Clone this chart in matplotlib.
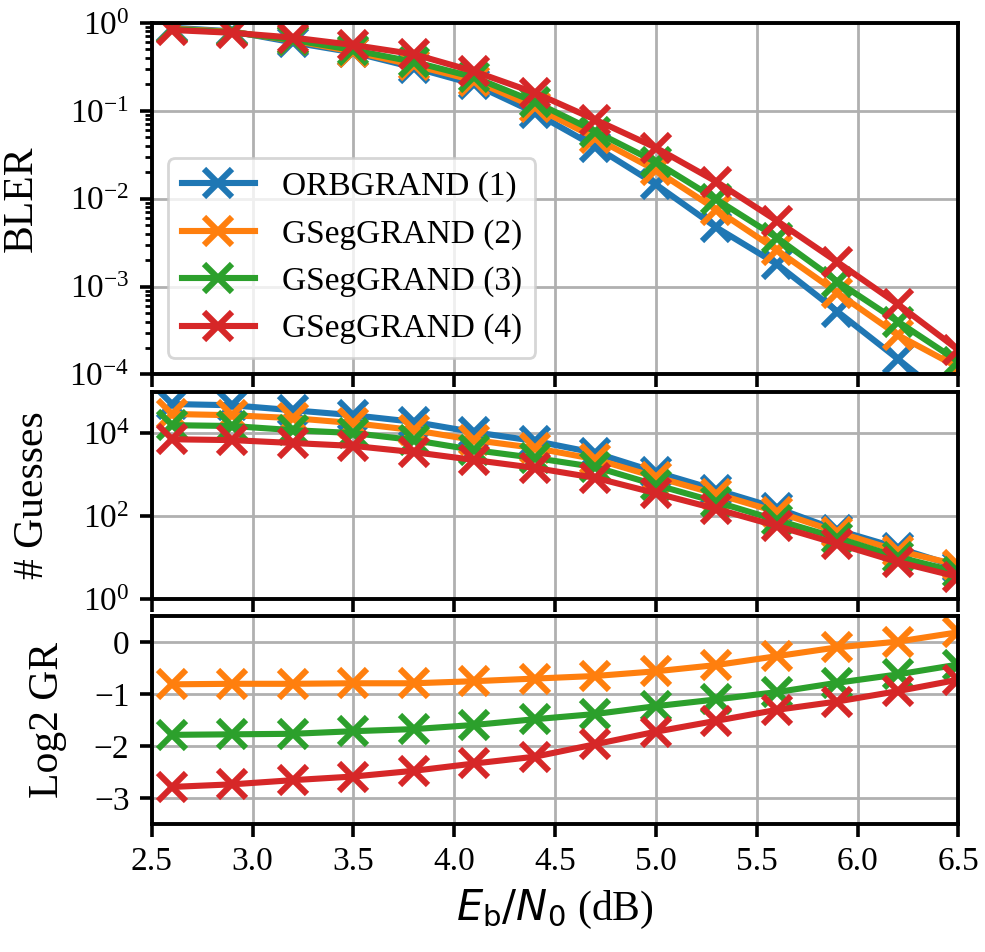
import numpy as np
import matplotlib
matplotlib.use("Agg")
import matplotlib.pyplot as plt

plt.rcParams['font.family'] = 'serif'
plt.rcParams['font.serif'] = ['Liberation Serif', 'DejaVu Serif']
plt.rcParams['mathtext.fontset'] = 'dejavusans'

snr = [2.6, 2.9, 3.2, 3.5, 3.8, 4.1, 4.4, 4.7, 5.0, 5.3, 5.6, 5.9, 6.2, 6.5]
labels = ['ORBGRAND (1)', 'GSegGRAND (2)', 'GSegGRAND (3)', 'GSegGRAND (4)']

# block error rate
bler_1 = [0.88, 0.80, 0.60, 0.46, 0.31, 0.20, 0.095, 0.039, 0.0145, 0.0047, 0.0018, 5.2e-4, 1.5e-4, 4.2e-5]
bler_2 = [0.86, 0.79, 0.63, 0.47, 0.33, 0.22, 0.11, 0.049, 0.021, 0.0075, 0.0026, 8.5e-4, 2.8e-4, 1.2e-4]
bler_3 = [0.85, 0.78, 0.64, 0.49, 0.36, 0.24, 0.126, 0.058, 0.026, 0.0098, 0.0036, 0.00114, 4.0e-4, 1.4e-4]
bler_4 = [0.83, 0.77, 0.68, 0.56, 0.44, 0.28, 0.16, 0.079, 0.038, 0.0156, 0.0056, 0.0019, 6.3e-4, 1.9e-4]

# average number of guesses (log10)
lg_guess_1 = [4.70, 4.67, 4.55, 4.43, 4.27, 4.02, 3.81, 3.52, 3.06, 2.63, 2.19, 1.66, 1.23, 0.77]
lg_guess_2 = [4.46, 4.43, 4.36, 4.24, 4.07, 3.83, 3.64, 3.37, 2.94, 2.53, 2.10, 1.61, 1.16, 0.82]
lg_guess_3 = [4.19, 4.17, 4.07, 4.00, 3.83, 3.59, 3.40, 3.18, 2.75, 2.34, 1.90, 1.47, 1.01, 0.65]
lg_guess_4 = [3.85, 3.83, 3.76, 3.69, 3.54, 3.35, 3.16, 2.92, 2.55, 2.17, 1.76, 1.33, 0.89, 0.53]

# log2 guess ratio vs ORBGRAND
gr_2 = [-0.81, -0.80, -0.80, -0.79, -0.79, -0.75, -0.70, -0.65, -0.56, -0.44, -0.27, -0.10, 0.01, 0.19]
gr_3 = [-1.78, -1.77, -1.76, -1.71, -1.67, -1.59, -1.48, -1.38, -1.23, -1.10, -0.96, -0.78, -0.62, -0.43]
gr_4 = [-2.78, -2.73, -2.65, -2.58, -2.47, -2.33, -2.20, -1.96, -1.72, -1.51, -1.30, -1.14, -0.94, -0.72]

colors = ['tab:blue', 'tab:orange', 'tab:green', 'tab:red']
sty = dict(marker='x', lw=2.2, ms=10, mew=2.2)

fig = plt.figure(figsize=(4.925, 4.76), dpi=200)
gs = fig.add_gridspec(3, 1, height_ratios=[351, 207, 208], hspace=0.067,
                      left=0.154, right=0.973, top=0.976, bottom=0.134)
ax1 = fig.add_subplot(gs[0])
ax2 = fig.add_subplot(gs[1], sharex=ax1)
ax3 = fig.add_subplot(gs[2], sharex=ax1)

for b, lab, c in zip([bler_1, bler_2, bler_3, bler_4], labels, colors):
    ax1.semilogy(snr, b, color=c, label=lab, **sty)
for g, c in zip([lg_guess_1, lg_guess_2, lg_guess_3, lg_guess_4], colors):
    ax2.semilogy(snr, 10 ** np.array(g), color=c, **sty)
for r, c in zip([gr_2, gr_3, gr_4], colors[1:]):
    ax3.plot(snr, r, color=c, **sty)

ax1.set_ylim(1e-4, 1)
ax1.set_ylabel('BLER', fontsize=15, va='center')
ax1.yaxis.set_label_coords(-0.162, 0.5)
ax1.legend(loc='lower left', fontsize=12, handlelength=2.2)

ax2.set_ylim(1, 1e5)
ax2.set_yticks([1, 1e2, 1e4])
ax2.yaxis.set_minor_locator(matplotlib.ticker.NullLocator())
ax2.set_ylabel('# Guesses', fontsize=15, va='center')
ax2.yaxis.set_label_coords(-0.147, 0.5)

ax3.set_ylim(-3.5, 0.5)
ax3.set_yticks([-3, -2, -1, 0])
ax3.set_ylabel('Log2 GR', fontsize=15, va='center')
ax3.yaxis.set_label_coords(-0.129, 0.5)
ax3.set_xlim(2.5, 6.5)
ax3.set_xticks(np.arange(2.5, 6.51, 0.5))
ax3.set_xlabel(r'$E_\mathrm{b}/N_0$ (dB)', fontsize=15)

for ax in [ax1, ax2, ax3]:
    ax.grid(True, which='major', color='#b0b0b0', lw=1.0)
    ax.tick_params(which='major', length=4.5, width=1.3, labelsize=12)
    ax.tick_params(which='minor', length=2.5, width=1.0)
    for s in ax.spines.values():
        s.set_linewidth(1.4)
for ax in [ax1, ax2]:
    plt.setp(ax.get_xticklabels(), visible=False)

fig.savefig('out.png', dpi=200)
